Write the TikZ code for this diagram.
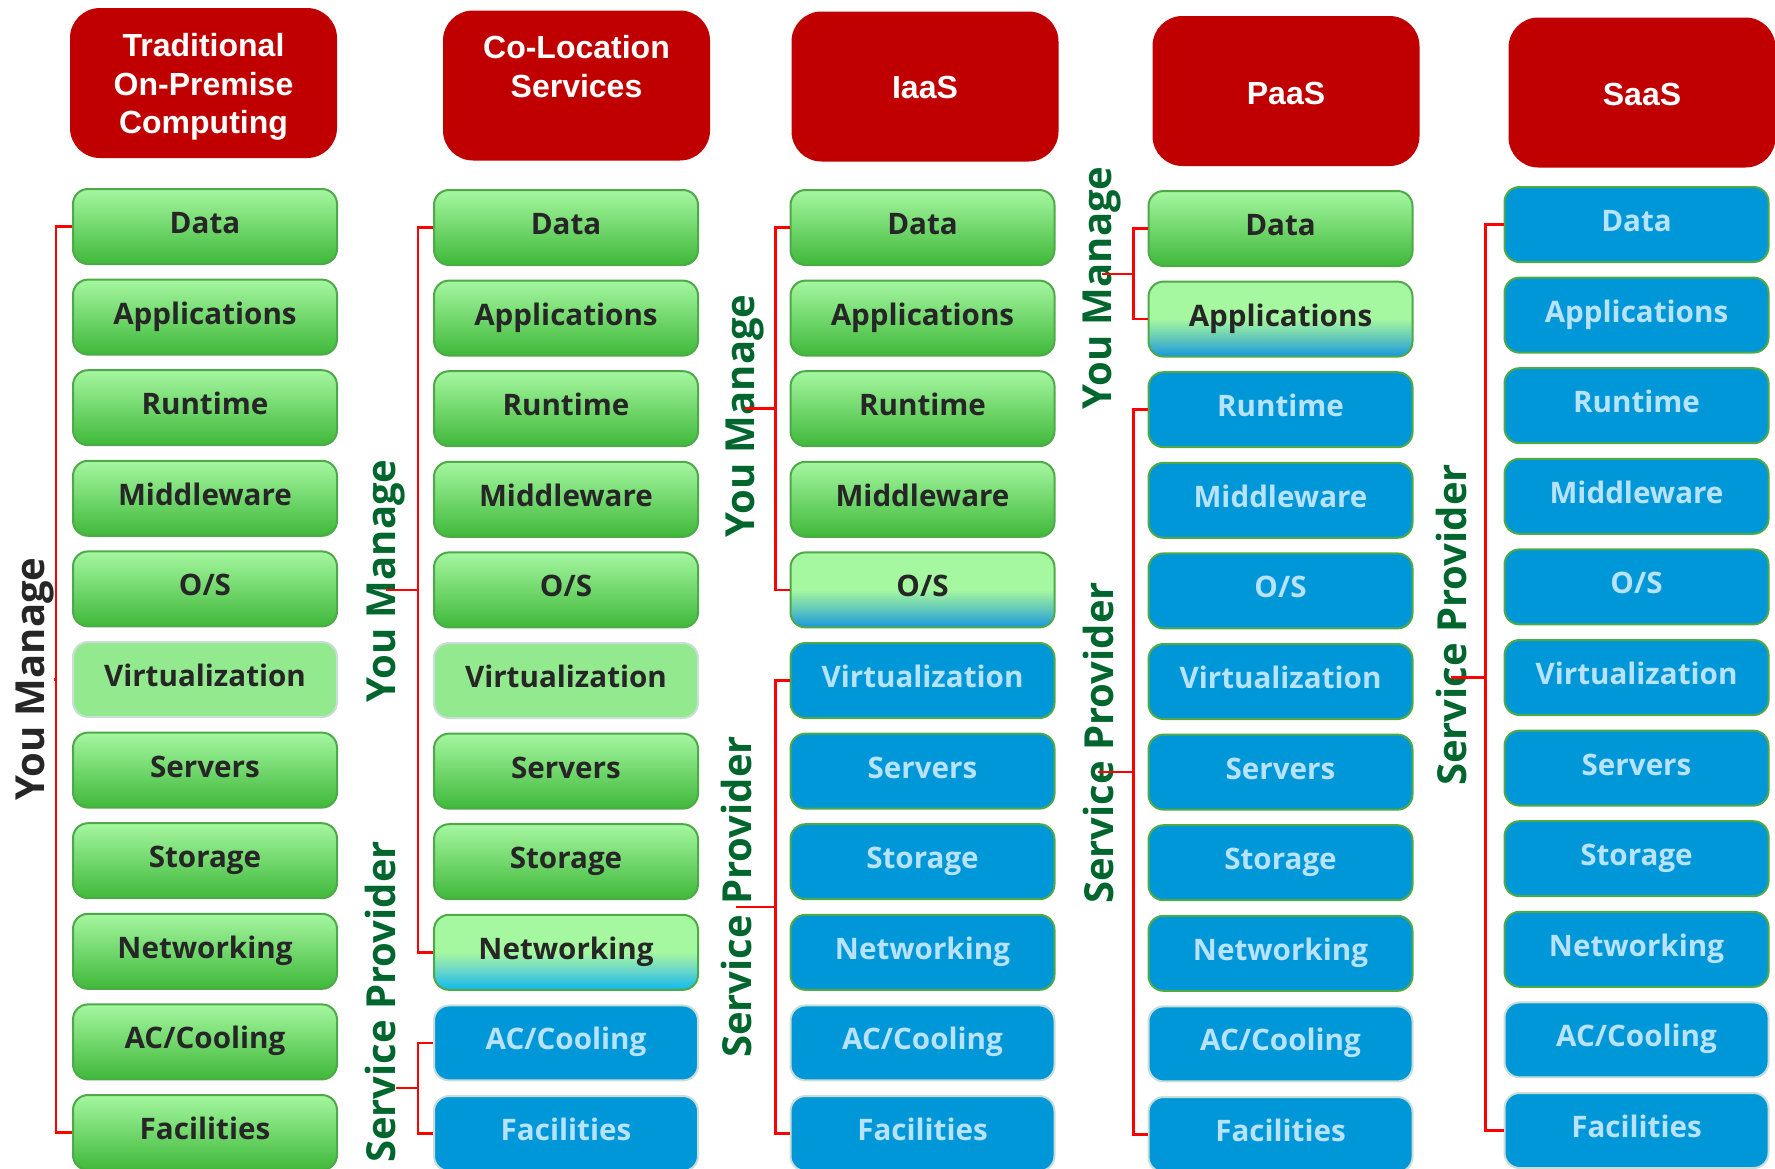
\documentclass[tikz,border=0pt]{standalone}
\usepackage{fontspec}
\setmainfont{Open Sans}
\newfontfamily\headfont{Liberation Sans}
\usepackage{xcolor}
\usepackage{tikz}
\usetikzlibrary{calc}
\definecolor{hdred}{HTML}{C00000}
\definecolor{gtop}{HTML}{A5F7A0}
\definecolor{gbot}{HTML}{3FB83A}
\definecolor{gedge}{HTML}{4EAA48}
\definecolor{vfill}{HTML}{93EA8E}
\definecolor{paleedge}{HTML}{C9DED6}
\definecolor{bfill}{HTML}{0097D8}
\definecolor{btext}{HTML}{B8E3FF}
\definecolor{dtext}{HTML}{262626}
\definecolor{lgreen}{HTML}{00662E}
\definecolor{tblue}{HTML}{1E9BDC}
\definecolor{tteal}{HTML}{66CBB8}
\definecolor{tcyan}{HTML}{14BCEB}
\definecolor{tcmid}{HTML}{6AD6C8}
\pgfdeclareverticalshading{greenblue}{100bp}{color(0bp)=(tblue); color(26bp)=(tblue);
  color(38bp)=(tteal); color(50bp)=(gtop); color(100bp)=(gtop)}
\pgfdeclareverticalshading{greencyan}{100bp}{color(0bp)=(tcyan); color(26bp)=(tcyan);
  color(38bp)=(tcmid); color(50bp)=(gtop); color(100bp)=(gtop)}
\newcommand{\stackrows}{Data,Applications,Runtime,Middleware,O/S,Virtualization,Servers,Storage,Networking,AC/Cooling,Facilities}
\newcommand{\headlines}[2]{\raisebox{#1}[\height][\depth]{\begin{tabular}{@{}c@{}}#2\end{tabular}}}
\tikzset{
  headbox/.style={
    rectangle, rounded corners=15pt, fill=hdred, text=white,
    minimum width=133.5pt, minimum height=75pt,
    font=\headfont\bfseries\fontsize{16}{19.2}\selectfont,
    inner sep=0pt
  },
  cellbox/.style={
    rectangle, rounded corners=7.5pt, line width=1pt,
    minimum width=132pt, minimum height=37.5pt,
    text height=11pt, text depth=4pt,
    font=\bfseries\fontsize{14.8}{17}\selectfont, inner sep=0pt
  },
  greencell/.style={cellbox, draw=gedge, top color=gtop, bottom color=gbot, text=dtext},
  lightcell/.style={cellbox, draw=paleedge, fill=vfill, text=dtext},
  mixcell/.style={cellbox, draw=gedge, shading=greenblue, text=dtext},
  cyancell/.style={cellbox, draw=gedge, shading=greencyan, text=dtext},
  bluecell/.style={cellbox, draw=gedge, fill=bfill, text=btext},
  palecell/.style={cellbox, draw=paleedge, fill=bfill, text=btext},
  bracket/.style={red, line width=1.25pt},
  sidelabel/.style={rotate=90, inner sep=0pt, text=lgreen,
    font=\bfseries\fontsize{20}{24}\selectfont},
}

\begin{document}
\begin{tikzpicture}[x=0.5pt, y=-0.5pt]
  \useasboundingbox (0,0) rectangle (1775,1168);
  \node[headbox] (hprem) at (203.5,83) {\headlines{-2.25pt}{Traditional\\On-Premise\\Computing}};
  \node[headbox] (hcolo) at (576.5,85.5) {\headlines{7.5pt}{Co-Location\\Services}};
  \node[headbox] (hiaas) at (925,86.5) {\headlines{-2.4pt}{IaaS}};
  \node[headbox] (hpaas) at (1286,91) {\headlines{-2.8pt}{PaaS}};
  \node[headbox] (hsaas) at (1642,92.5) {\headlines{-2.6pt}{SaaS}};

  \foreach \lab [count=\i] in \stackrows {
    \ifnum\i=6 \def\sty{lightcell}\else\def\sty{greencell}\fi
    \node[\sty] (t\i) at (205,{226.5+(\i-1)*90.6}) {\lab};
  }
  \foreach \lab [count=\i] in \stackrows {
    \ifnum\i<9 \def\sty{greencell}\else\ifnum\i=9 \def\sty{cyancell}\else\def\sty{palecell}\fi\fi
    \ifnum\i=6 \def\sty{lightcell}\fi
    \node[\sty] (c\i) at (566,{227.5+(\i-1)*90.6}) {\lab};
  }
  \foreach \lab [count=\i] in \stackrows {
    \ifnum\i<5 \def\sty{greencell}\else\ifnum\i=5 \def\sty{mixcell}\else
      \ifnum\i<10 \def\sty{bluecell}\else\def\sty{palecell}\fi\fi\fi
    \node[\sty] (i\i) at (922.5,{227.5+(\i-1)*90.6}) {\lab};
  }
  \foreach \lab [count=\i] in \stackrows {
    \ifnum\i=1 \def\sty{greencell}\else\ifnum\i=2 \def\sty{mixcell}\else
      \ifnum\i<10 \def\sty{bluecell}\else\def\sty{palecell}\fi\fi\fi
    \node[\sty] (p\i) at (1280.5,{228.5+(\i-1)*90.6}) {\lab};
  }
  \foreach \lab [count=\i] in \stackrows {
    \ifnum\i<10 \def\sty{bluecell}\else\def\sty{palecell}\fi
    \node[\sty] (s\i) at (1636.5,{224.5+(\i-1)*90.6}) {\lab};
  }

  \coordinate (tbar) at ([xshift=-8pt]$(t1.west)!0.5!(t11.west)$);
  \coordinate (cbar1) at ([xshift=-7.5pt]$(c1.west)!0.5!(c9.west)$);
  \coordinate (cbar2) at ([xshift=-7.5pt]$(c10.west)!0.5!(c11.west)$);
  \coordinate (ibar1) at ([xshift=-7pt]$(i1.west)!0.5!(i5.west)$);
  \coordinate (ibar2) at ([xshift=-7pt]$(i6.west)!0.5!(i11.west)$);
  \coordinate (pbar1) at ([xshift=-7pt]$(p1.west)!0.5!(p2.west)$);
  \coordinate (pbar2) at ([xshift=-7pt]$(p3.west)!0.5!(p11.west)$);
  \coordinate (sbar) at ([xshift=-9pt]$(s1.west)!0.5!(s11.west)$);
  \draw[bracket] (t1.west) -| (tbar) |- (t11.west);
  \draw[bracket] (c1.west) -| (cbar1) |- (c9.west);
  \draw[bracket] (c10.west) -| (cbar2) |- (c11.west);
  \draw[bracket] (i1.west) -| (ibar1) |- (i5.west);
  \draw[bracket] (i6.west) -| (ibar2) |- (i11.west);
  \draw[bracket] (p1.west) -| (pbar1) |- (p2.west);
  \draw[bracket] (p3.west) -| (pbar2) |- (p11.west);
  \draw[bracket] (s1.west) -| (sbar) |- (s11.west);

  \node[sidelabel, text=dtext] (tym) at (35,679) {You Manage};
  \node[sidelabel] (cym) at (386,581) {You Manage};
  \node[sidelabel] (csp) at (380,1002) {Service Provider};
  \node[sidelabel] (iym) at (745,416) {You Manage};
  \node[sidelabel] (isp) at (736,897) {Service Provider};
  \node[sidelabel] (pym) at (1102,288) {You Manage};
  \node[sidelabel] (psp) at (1098,743) {Service Provider};
  \node[sidelabel] (ssp) at (1451,625) {Service Provider};
  \draw[bracket] (tbar) -- (tbar -| tym.south);
  \draw[bracket] (cbar1) -- (cbar1 -| cym.center);
  \draw[bracket] (cbar2) -- (cbar2 -| csp.south);
  \draw[bracket] (ibar1) -- (ibar1 -| iym.center);
  \draw[bracket] (ibar2) -- (ibar2 -| isp.center);
  \draw[bracket] (pbar1) -- (pbar1 -| pym.center);
  \draw[bracket] (pbar2) -- (pbar2 -| psp.center);
  \draw[bracket] (sbar) -- (sbar -| ssp.center);
\end{tikzpicture}
\end{document}
